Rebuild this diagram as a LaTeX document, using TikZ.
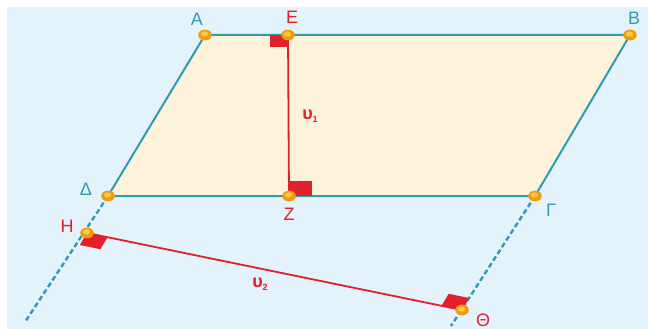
\documentclass[tikz,border=0pt]{standalone}
\usepackage{fontspec}
\setmainfont{Liberation Sans}
\usetikzlibrary{calc}
\definecolor{bgblue}{HTML}{E4F3FB}
\definecolor{teal}{HTML}{2E9AB4}
\definecolor{paper}{HTML}{FDF2DA}
\definecolor{redline}{HTML}{E0202A}
\definecolor{ptorange}{HTML}{F29A12}
\definecolor{ptyellow}{HTML}{FFC940}
\tikzset{
  side/.style={draw=teal, line width=2pt},
  ext/.style={draw=teal, line width=2.4pt, dash pattern=on 5pt off 3pt},
  dist/.style={draw=redline, line width=1.8pt},
  rmark/.style={fill=redline},
  tlab/.style={text=teal, font=\fontsize{18}{18}\selectfont, inner sep=0pt},
  rlab/.style={text=redline, font=\fontsize{18}{18}\selectfont, inner sep=0pt},
  ulab/.style={text=redline, font=\fontsize{18}{18}\selectfont\bfseries, inner sep=0pt},
}
\newcommand{\ptdot}[1]{%
  \fill[ptorange] (#1) ellipse [x radius=6.8pt, y radius=5.4pt];
  \fill[ptyellow] ($(#1)+(-0.5,-1)$) ellipse [x radius=3.6pt, y radius=2.6pt];}
\begin{document}
\begin{tikzpicture}[x=1pt,y=-1pt]
\useasboundingbox (0,0) rectangle (648,329);
\fill[white] (0,0) rectangle (648,329);
\fill[bgblue] (7,7) rectangle (648,329);
% points
\coordinate (A) at (205,35);
\coordinate (E) at (288,35);
\coordinate (B) at (630,35);
\coordinate (D) at (108,196);
\coordinate (Z) at (289,196);
\coordinate (G) at (535,196);
\coordinate (H) at (87,233);
\coordinate (T) at (462,310);
\coordinate (Dend) at (25,322);
\coordinate (Gend) at (451,326);
% parallelogram
\fill[paper] (A) -- (B) -- (G) -- (D) -- cycle;
\path[ext] (D) -- (Dend);
\path[ext] (G) -- (Gend);
\path[side] (A) -- (B) -- (G) -- (D) -- cycle;
% right angle marks
\fill[rmark] (270,35) rectangle (288,47);
\fill[rmark] (290,181) rectangle (312,196);
\coordinate (u) at (0.979,0.201);
\coordinate (d) at (-0.516,0.856);
\fill[rmark] (H) -- ($(H)+21*(u)$) -- ($(H)+21*(u)+14*(d)$) -- ($(H)+14*(d)$) -- cycle;
\fill[rmark] (T) -- ($(T)-21*(u)$) -- ($(T)-21*(u)-14*(d)$) -- ($(T)-14*(d)$) -- cycle;
% distances
\path[dist] (E) -- (Z);
\path[dist] (H) -- (T);
% dots
\ptdot{A}\ptdot{E}\ptdot{B}\ptdot{D}\ptdot{Z}\ptdot{G}\ptdot{H}\ptdot{T}
% labels
\node[tlab] (lA) at (197,19) {A};
\node[rlab] (lE) at (292,17) {E};
\node[tlab] (lB) at (634,18) {B};
\node[tlab] (lD) at (86,189) {Δ};
\node[rlab] (lZ) at (289,214) {Z};
\node[tlab] (lG) at (551,210) {Γ};
\node[rlab] (lH) at (67,226) {H};
\node[rlab] (lT) at (483,320) {Θ};
\node[ulab] (u1) at (310,116) {υ\raisebox{-0.3ex}{\fontsize{9}{9}\selectfont 1}};
\node[ulab] (u2) at (260,284) {υ\raisebox{-0.3ex}{\fontsize{9}{9}\selectfont 2}};
\end{tikzpicture}
\end{document}
